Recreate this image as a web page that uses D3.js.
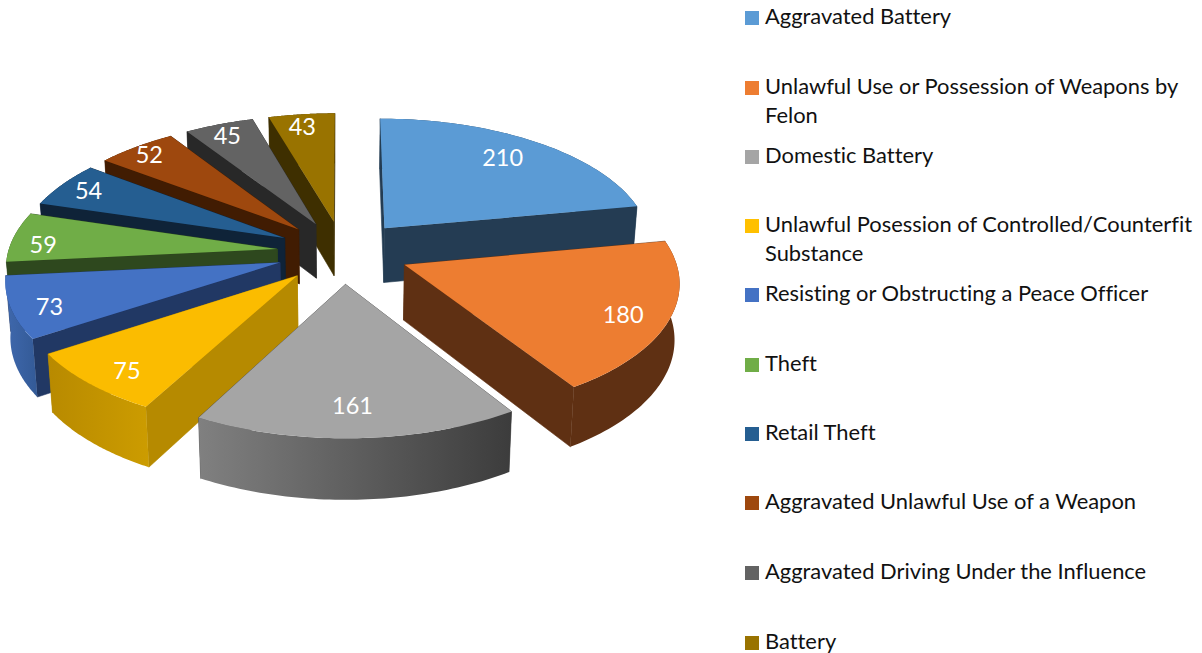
<!DOCTYPE html>
<html><head><meta charset="utf-8">
<script src="https://cdn.jsdelivr.net/npm/d3@7"></script>
<style>html,body{margin:0;padding:0;background:#fff}svg{display:block}text{font-variant-ligatures:none}</style></head>
<body><svg id="c" width="1202" height="653"></svg>
<script>
const categories = [
  ["Aggravated Battery"],
  ["Unlawful Use or Possession of Weapons by","Felon"],
  ["Domestic Battery"],
  ["Unlawful Posession of Controlled/Counterfit","Substance"],
  ["Resisting or Obstructing a Peace Officer"],
  ["Theft"],
  ["Retail Theft"],
  ["Aggravated Unlawful Use of a Weapon"],
  ["Aggravated Driving Under the Influence"],
  ["Battery"]
];
const values = [210,180,161,75,73,59,54,52,45,43];
const topColors = ["#5b9bd5","#ed7d31","#a5a5a5","#fbbc00","#4472c4","#70ad47","#255e91","#9e480e","#636363","#997300"];
const cutColors = ["#243c53","#5f3013","#4a4a4a","#b68a00","#213864","#2e481e","#0f2338","#411c02","#282828","#3e2f00"];
const wallFrom  = ["#2a465f","#5f3013","#808080","#b88a00","#3f68ad","#2e481e","#0f2338","#411c02","#282828","#3e2f00"];
const wallTo    = ["#2a465f","#5f3013","#3c3c3c","#cc9c00","#335a96","#2e481e","#0f2338","#411c02","#282828","#3e2f00"];
const legendY = [18,88,157,226,295,365,434,503,573,643];
const labelShift = [[-15,6],[-11,3],[-3,-10],[9,2],[3,5],[-4,6],[-1,0],[-6,-2],[-3,0],[-3,0]];

const cx=343, cy=252, rx=276, ry=131, persp=.12, explode=.24, radius=.975, height=55, heightGrow=.035, zShrink=.985, labelR=.85;
const svg=d3.select("#c");
const defs=svg.append("defs");
const arcs=d3.pie().sort(null).startAngle(0).endAngle(2*Math.PI)(values);

const proj=(X,Y)=>{const s=1/(1+persp*Y);return [cx+X*rx*s, cy-Y*ry*s];};
const drop=p=>[cx+(p[0]-cx)*zShrink, p[1]+height+(p[1]-cy)*heightGrow];
const line=d3.line().curve(d3.curveLinear);
const order=d3.range(values.length).sort((a,b)=>{
  const m=i=>(arcs[i].startAngle+arcs[i].endAngle)/2;
  return Math.cos(m(b))-Math.cos(m(a));
});

order.forEach(i=>{
  const a=arcs[i], mid=(a.startAngle+a.endAngle)/2;
  const ox=explode*Math.sin(mid), oy=explode*Math.cos(mid);
  const at=(t,r)=>proj(ox+r*Math.sin(t), oy+r*Math.cos(t));
  const apex=at(0,0);
  const rim=d3.range(0,61).map(k=>{const t=a.startAngle+(a.endAngle-a.startAngle)*k/60;return at(t,radius);});
  const g=svg.append("g");
  const gid="w"+i;
  const grad=defs.append("linearGradient").attr("id",gid).attr("x1",0).attr("x2",1).attr("y1",0).attr("y2",0);
  grad.append("stop").attr("offset",0).attr("stop-color",wallFrom[i]);
  grad.append("stop").attr("offset",1).attr("stop-color",wallTo[i]);
  const wall=()=>g.append("path").attr("d",line(rim.concat(rim.slice().reverse().map(drop)))+"Z").attr("fill",`url(#${gid})`);
  const cut=p=>g.append("path").attr("d",line([apex,p,drop(p),drop(apex)])+"Z").attr("fill",cutColors[i]).attr("stroke",cutColors[i]).attr("stroke-width",.6);
  const first=rim[0], last=rim[rim.length-1];
  const far=Math.cos(mid)>0;
  if(far) wall();
  if(mid<Math.PI){cut(first);cut(last);} else {cut(last);cut(first);}
  if(!far) wall();
  g.append("path").attr("d",line([apex].concat(rim))+"Z").attr("fill",topColors[i]);
});

order.forEach(i=>{
  const a=arcs[i], mid=(a.startAngle+a.endAngle)/2;
  const p=proj((explode+labelR)*Math.sin(mid),(explode+labelR)*Math.cos(mid));
  svg.append("text").attr("x",p[0]+labelShift[i][0]).attr("y",p[1]+labelShift[i][1]).attr("text-anchor","middle").attr("dy","0.35em")
    .attr("font-family","Lato, Carlito, sans-serif").attr("font-size",23.5).attr("fill","#fff").text(values[i]);
});

const lg=svg.append("g").attr("font-family","Lato, Carlito, sans-serif").attr("font-size",21.9).attr("fill","#111");
categories.forEach((lines,i)=>{
  lg.append("rect").attr("x",745).attr("y",legendY[i]-7).attr("width",14).attr("height",14).attr("fill",i===3?"#ffc000":topColors[i]);
  lines.forEach((t,k)=>lg.append("text").attr("x",765).attr("y",legendY[i]-1.5+k*29).attr("dy","0.33em").text(t));
});
</script></body></html>
